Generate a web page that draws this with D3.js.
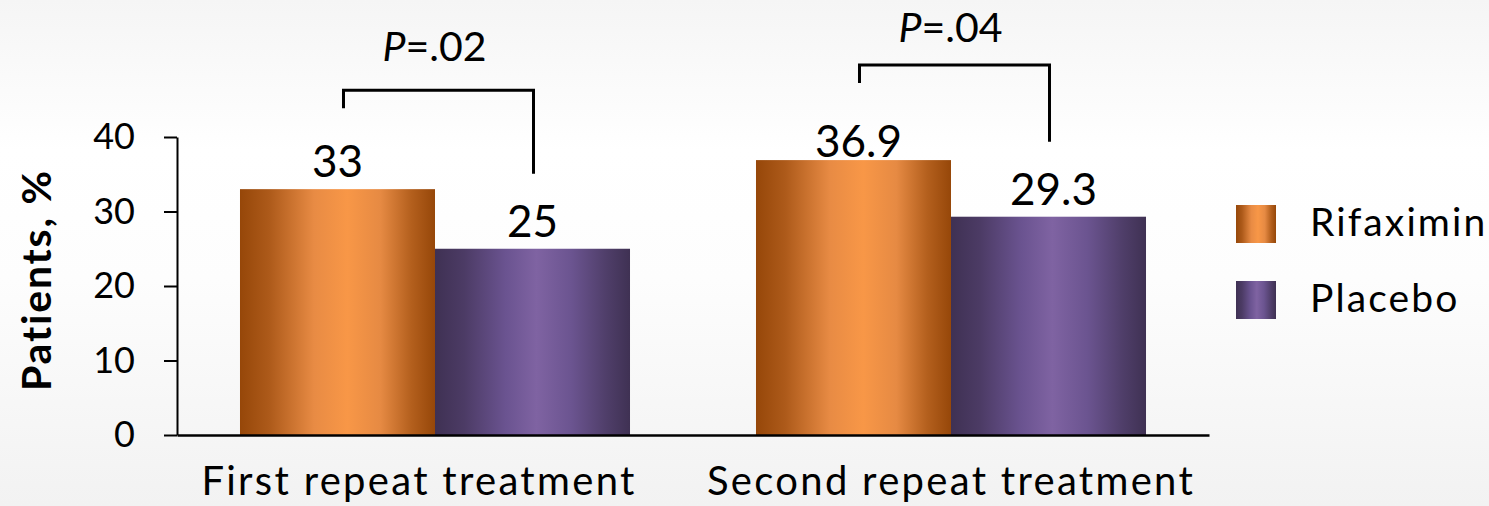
<!DOCTYPE html>
<html>
<head>
<meta charset="utf-8">
<script src="https://cdn.jsdelivr.net/npm/d3@7/dist/d3.min.js"></script>
<style>
  html, body { margin: 0; padding: 0; background: #fff; }
  svg { display: block; }
  text { font-family: Lato, "Open Sans", sans-serif; fill: #000; }
</style>
</head>
<body>
<svg id="chart" width="1489" height="506"></svg>
<script>
// ---- data ----
const categories = ["First repeat treatment", "Second repeat treatment"];
const seriesNames = ["Rifaximin", "Placebo"];
const rifaximin = [33, 36.9];
const placebo = [25, 29.3];
const yTicks = [0, 10, 20, 30, 40];
const pValueLabels = [".02", ".04"];
const yAxisTitle = "Patients, %";

// ---- layout ----
const W = 1489, H = 506;
const plotLeft = 177, plotRight = 1209, plotTop = 137, plotBottom = 435;
const bracketLift = [99, 95];   // px above the taller bar
const pLabelLift = [29, 23];    // px above the bracket

const svg = d3.select("#chart");
const defs = svg.append("defs");

// background gradient
const bg = defs.append("linearGradient").attr("id", "bg").attr("x1", 0).attr("x2", 0).attr("y1", 0).attr("y2", 1);
[[0, "#f5f5f5"], [0.3, "#ffffff"], [0.55, "#fdfdfd"], [1, "#f2f2f2"]]
  .forEach(([o, c]) => bg.append("stop").attr("offset", o).attr("stop-color", c));
svg.append("rect").attr("width", W).attr("height", H).attr("fill", "url(#bg)");

// bar gradients (metallic horizontal)
const gradStops = {
  Rifaximin: [[0, "#964709"], [0.15, "#ad5a1a"], [0.38, "#e88b44"], [0.55, "#f89747"], [0.72, "#e68a43"], [0.88, "#b35f1d"], [1, "#964709"]],
  Placebo:   [[0, "#3f3153"], [0.15, "#4c3b65"], [0.36, "#6a5390"], [0.52, "#7f63a2"], [0.7, "#6b5490"], [0.88, "#4f3e69"], [1, "#3f3153"]]
};
seriesNames.forEach(s => {
  const g = defs.append("linearGradient").attr("id", "g-" + s).attr("x1", 0).attr("x2", 1).attr("y1", 0).attr("y2", 0);
  gradStops[s].forEach(([o, c]) => g.append("stop").attr("offset", o).attr("stop-color", c));
});

// scales
const x0 = d3.scaleBand().domain(categories).range([plotLeft, plotRight]).padding(0);
const x1 = d3.scaleBand().domain(seriesNames).range([0, x0.bandwidth()]).paddingInner(0).paddingOuter(0.323);
const y = d3.scaleLinear().domain([0, 40]).range([plotBottom, plotTop]);

const rows = categories.map((c, i) => ({
  category: c,
  values: [
    { series: "Rifaximin", value: rifaximin[i] },
    { series: "Placebo", value: placebo[i] }
  ]
}));

// bars
const groups = svg.append("g").selectAll("g").data(rows).join("g")
  .attr("transform", d => `translate(${x0(d.category)},0)`);
groups.selectAll("rect").data(d => d.values).join("rect")
  .attr("x", d => x1(d.series))
  .attr("y", d => y(d.value))
  .attr("width", x1.bandwidth())
  .attr("height", d => y(0) - y(d.value))
  .attr("fill", d => `url(#g-${d.series})`);

// value labels
const labelGap = (cat, s) => (cat === categories[1] && s === "Rifaximin") ? 3 : 12;
groups.selectAll("text.val").data(d => d.values.map(v => ({ ...v, category: d.category }))).join("text")
  .attr("class", "val")
  .attr("x", d => x1(d.series) + x1.bandwidth() / 2 + (d.value % 1 ? 5 : 0))
  .attr("y", d => y(d.value) - labelGap(d.category, d.series))
  .attr("text-anchor", "middle")
  .attr("font-size", 44)
  .text(d => String(d.value));

// y axis
const yAxis = svg.append("g").attr("transform", `translate(${plotLeft},0)`)
  .call(d3.axisLeft(y).tickValues(yTicks).tickSize(13).tickSizeOuter(0).tickPadding(29).tickFormat(d3.format("d")));
yAxis.select(".domain").attr("stroke", "#000").attr("stroke-width", 2);
yAxis.selectAll(".tick line").attr("stroke", "#000").attr("stroke-width", 2);
yAxis.selectAll(".tick text").attr("font-size", 36).attr("font-family", "Lato").attr("fill", "#000");

// x axis
const xAxis = svg.append("g").attr("transform", `translate(0,${plotBottom})`)
  .call(d3.axisBottom(x0).tickSize(0).tickSizeOuter(0));
xAxis.select(".domain").attr("stroke", "#000").attr("stroke-width", 2.5);
xAxis.selectAll(".tick text").attr("font-size", 40).attr("font-family", "Lato").attr("fill", "#000")
  .attr("letter-spacing", 2.3)
  .attr("y", 60).attr("dy", 0)
  .attr("dx", (d, i) => i === 0 ? -16 : 0);

// y axis title
svg.append("text")
  .attr("transform", `translate(51,${(plotTop + plotBottom) / 2 - 6}) rotate(-90)`)
  .attr("text-anchor", "middle")
  .attr("font-size", 41)
  .attr("font-weight", "bold")
  .attr("letter-spacing", 1.8)
  .text(yAxisTitle);

// significance brackets
const brackets = svg.append("g");
rows.forEach((d, i) => {
  const gx = x0(d.category);
  const lx = gx + x1("Rifaximin") + x1.bandwidth() / 2 + 6;
  const rx = gx + x1("Placebo") + x1.bandwidth() / 2 + 1;
  const maxV = Math.max(rifaximin[i], placebo[i]);
  const top = y(maxV) - bracketLift[i];
  const leftBottom = top + 18;
  const rightBottom = y(placebo[i]) - 75;
  brackets.append("path")
    .attr("d", `M${lx},${leftBottom}V${top}H${rx}V${rightBottom}`)
    .attr("fill", "none").attr("stroke", "#000").attr("stroke-width", 3);
  const t = brackets.append("text")
    .attr("x", (lx + rx) / 2 - 4)
    .attr("y", top - pLabelLift[i])
    .attr("text-anchor", "middle")
    .attr("font-size", 41);
  t.append("tspan").attr("font-style", "italic").text("P");
  t.append("tspan").text("=" + pValueLabels[i]);
});

// legend
const legend = svg.append("g").attr("transform", "translate(1236,205)");
seriesNames.forEach((s, i) => {
  const g = legend.append("g").attr("transform", `translate(0,${i * 76})`);
  g.append("rect").attr("width", 40).attr("height", 38).attr("fill", `url(#g-${s})`);
  g.append("text").attr("x", 74).attr("y", 31).attr("font-size", 39)
    .attr("letter-spacing", 2.1).text(s);
});
</script>
</body>
</html>
